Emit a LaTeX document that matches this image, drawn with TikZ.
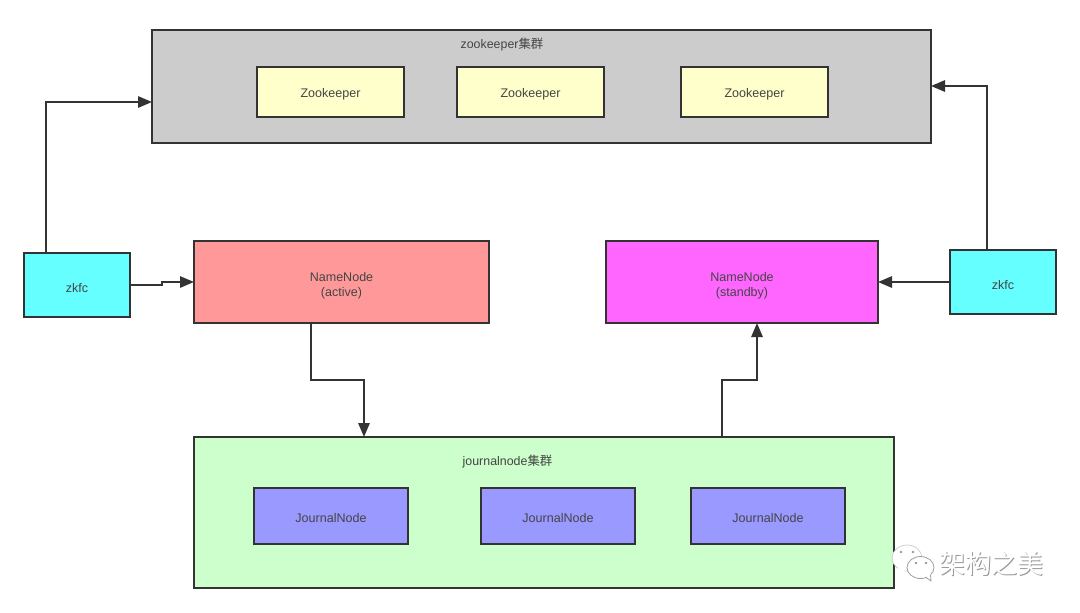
\documentclass[tikz,border=0pt]{standalone}
\usepackage{fontspec}
\setmainfont{Liberation Sans}
\newfontfamily\cjk{Noto Sans CJK SC}
\usetikzlibrary{arrows.meta,calc}
\definecolor{ink}{HTML}{333333}
\definecolor{txt}{HTML}{444444}
\newcommand\dn[2][-1.5pt]{\raisebox{#1}[\height][\depth]{#2}}
\tikzset{
  box/.style 2 args={draw=ink,line width=1.5pt,outer sep=0pt,inner sep=0pt,align=center,text=txt,
    font=\fontsize{9.4pt}{11.25pt}\selectfont,minimum width=#1*0.75pt,minimum height=#2*0.75pt},
  clusterlabel/.style={text=txt,inner sep=0pt,font=\fontsize{9.3pt}{11.25pt}\selectfont},
  conn/.style={draw=ink,line width=1.4pt,-{Triangle[length=10.5pt,width=8.5pt]}},
  bubble/.style={fill=white,draw=black!22,line width=0.5pt},
  bubbleb/.style={fill=white,draw=black!38,line width=0.6pt},
  markdot/.style={fill=black!40},
  wmark/.style={inner sep=0pt,font=\cjk\fontsize{19.5pt}{22pt}\selectfont}
}
\begin{document}
\begin{tikzpicture}[x=0.75pt,y=-0.75pt]
\useasboundingbox (0,0) rectangle (1080,612);
% clusters
\node[box={779}{113},fill={rgb,255:red,204;green,204;blue,204}] (zkc) at (541.5,86.5) {};
\node[clusterlabel] (zkl) at (502,45) {zookeeper{\cjk 集群}};
\node[box={147}{50},fill={rgb,255:red,255;green,255;blue,204}] (zk1) at (330.5,92) {\dn{Zookeeper}};
\node[box={147}{50},fill={rgb,255:red,255;green,255;blue,204}] (zk2) at (530.5,92) {\dn{Zookeeper}};
\node[box={147}{50},fill={rgb,255:red,255;green,255;blue,204}] (zk3) at (754.5,92) {\dn{Zookeeper}};
% zkfc and namenodes
\node[box={106}{64},fill={rgb,255:red,102;green,255;blue,255}] (fl) at (77,285) {\dn[-2.2pt]{zkfc}};
\node[box={106}{64},fill={rgb,255:red,102;green,255;blue,255}] (fr) at (1003,282) {\dn[-2.2pt]{zkfc}};
\node[box={295}{82},fill={rgb,255:red,255;green,153;blue,153}] (nna) at (341.5,282) {\dn[-3pt]{NameNode}\\\dn[-3pt]{(active)}};
\node[box={272}{82},fill={rgb,255:red,255;green,102;blue,255}] (nns) at (742,282) {\dn[-3pt]{NameNode}\\\dn[-3pt]{(standby)}};
% journal cluster
\node[box={700}{151},fill={rgb,255:red,204;green,255;blue,204}] (jc) at (544,512.5) {};
\node[clusterlabel] (jl) at (507.5,462) {journalnode{\cjk 集群}};
\node[box={154}{56},fill={rgb,255:red,153;green,153;blue,255}] (j1) at (331,516) {\dn{JournalNode}};
\node[box={154}{56},fill={rgb,255:red,153;green,153;blue,255}] (j2) at (558,516) {\dn{JournalNode}};
\node[box={154}{56},fill={rgb,255:red,153;green,153;blue,255}] (j3) at (768,516) {\dn{JournalNode}};
% connectors
\draw[conn] ($(fl.north)+(-31,0)$) |- ($(zkc.west)+(0,15.5)$);
\draw[conn] ($(fr.north)+(-16,0)$) |- ($(zkc.east)+(0,-0.5)$);
\draw[conn] (fl.east) -- ++(32,0) |- (nna.west);
\draw[conn] (fr.west) -- (nns.east);
\draw[conn] ($(nna.south)+(-30.5,0)$) |- ($(jc.north)+(-180,-57)$) -- ($(jc.north)+(-180,0)$);
\draw[conn] ($(jc.north)+(178,0)$) |- ($(nns.south)+(15,57)$) -- ($(nns.south)+(15,0)$);
% watermark
\draw[bubble] (907,558) ellipse [x radius=15,y radius=13];
\fill[white] (899,566) -- (896,574) -- (908,569) -- cycle;
\draw[bubbleb] (920.5,567.5) ellipse [x radius=13.5,y radius=11];
\fill[white] (926,576) -- (931,581) -- (931,574) -- cycle;
\draw[black!38,line width=0.6pt] (926,577.5) -- (931,581) -- (930.5,574.5);
\foreach \p in {(901,552),(913,552),(916,563),(926,563)} \fill[markdot] \p circle [radius=1.4];
\node[wmark,text=black!40] (wm1) at (992.2,564.7) {架构之美};
\node[wmark,text=white] (wm2) at (991.6,564) {架构之美};
\end{tikzpicture}
\end{document}
